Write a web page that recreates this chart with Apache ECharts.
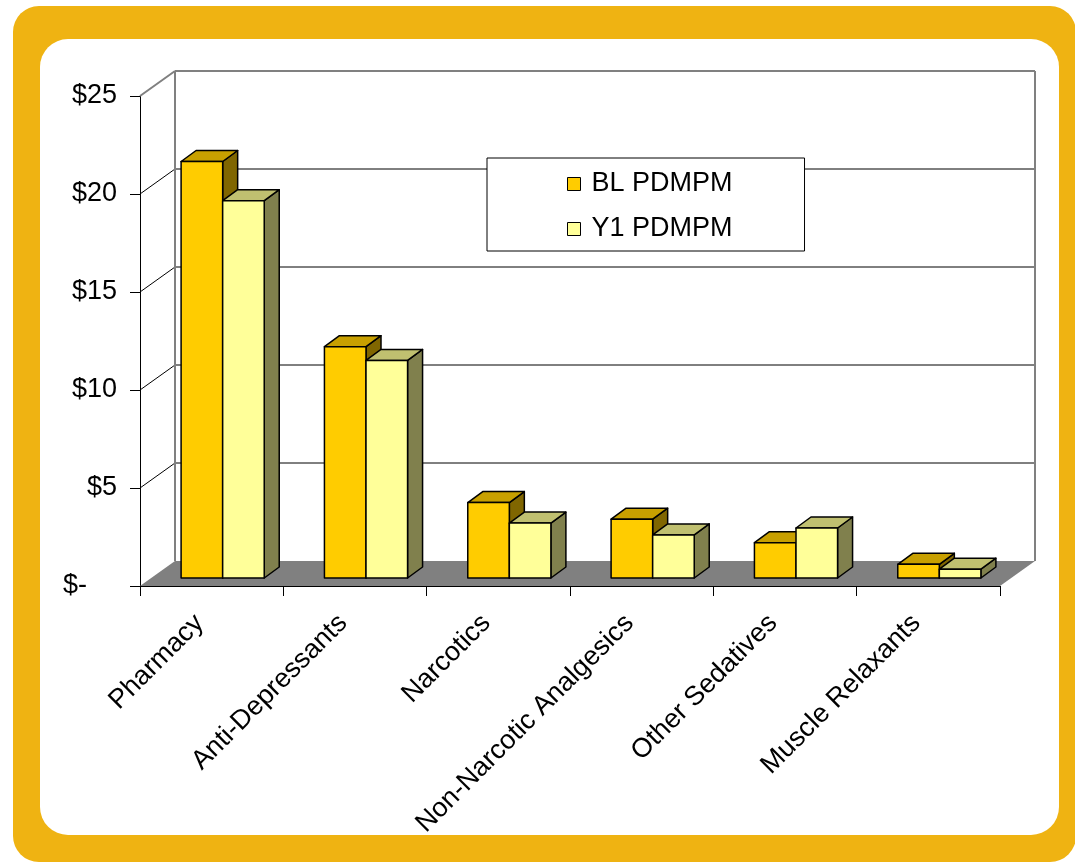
<!DOCTYPE html>
<html>
<head>
<meta charset="utf-8">
<script src="https://cdn.jsdelivr.net/npm/echarts@6/dist/echarts.min.js"></script>
<style>
html,body{margin:0;padding:0;background:#fff;}
#chart{width:1075px;height:866px;}
</style>
</head>
<body>
<div id="chart"></div>
<script>
const categories = ['Pharmacy', 'Anti-Depressants', 'Narcotics', 'Non-Narcotic Analgesics', 'Other Sedatives', 'Muscle Relaxants'];
const blValues = [21.25, 11.8, 3.85, 3.0, 1.8, 0.7];
const y1Values = [19.25, 11.1, 2.8, 2.2, 2.55, 0.45];
const yTicks = [0, 5, 10, 15, 20, 25];
const seriesNames = ['BL PDMPM', 'Y1 PDMPM'];

const FONT = '"Liberation Sans", Arial, sans-serif';
const DX = 35, DY = 25;      // wall depth
const OX = 11, OY = 8;       // bar plane offset
const BDX = 15, BDY = 11;    // bar depth
const palettes = [
  { front: '#FFCC00', top: '#C8A000', side: '#806600' },
  { front: '#FFFF99', top: '#C0C070', side: '#80804D' }
];

function wallRender(params, api) {
  const cs = params.coordSys;
  const v = api.value(1);
  const p = api.coord([0, v]);
  const y = p[1];
  const gx = cs.x, gw = cs.width;
  const children = [];
  if (v === 0) {
    children.push({
      type: 'polygon',
      shape: { points: [[gx, y], [gx + gw, y], [gx + gw + DX, y - DY], [gx + DX, y - DY]] },
      style: { fill: '#808080', stroke: null }
    });
  } else {
    const isTop = v === yTicks[yTicks.length - 1];
    const col = isTop ? '#808080' : '#000000';
    const lw = isTop ? 2 : 1;
    children.push({
      type: 'line',
      shape: { x1: gx, y1: y, x2: gx + DX, y2: y - DY },
      style: { stroke: col, lineWidth: lw }
    });
    children.push({
      type: 'line',
      shape: { x1: gx + DX, y1: y - DY, x2: gx + gw + DX, y2: y - DY },
      style: { stroke: col, lineWidth: lw }
    });
    if (isTop) {
      const b = api.coord([0, 0])[1];
      children.push({
        type: 'line',
        shape: { x1: gx + DX, y1: y - DY, x2: gx + DX, y2: b - DY },
        style: { stroke: '#808080', lineWidth: 2 }
      });
      children.push({
        type: 'line',
        shape: { x1: gx + gw + DX, y1: y - DY, x2: gx + gw + DX, y2: b - DY },
        style: { stroke: '#808080', lineWidth: 2 }
      });
    }
  }
  return { type: 'group', children: children };
}

function barRender(si) {
  return function (params, api) {
    const i = api.value(0), v = api.value(1);
    const base = api.coord([i, 0]);
    const top = api.coord([i, v]);
    const band = api.size([1, 0])[0];
    const w = band * 0.29;
    const x0 = base[0] + OX + (si === 0 ? -w : 0);
    const yB = base[1] - OY, yT = top[1] - OY;
    const pal = palettes[si];
    const stroke = { stroke: '#000', lineWidth: 1.5, lineJoin: 'round' };
    return {
      type: 'group',
      children: [
        { type: 'polygon', shape: { points: [[x0 + w, yT], [x0 + w + BDX, yT - BDY], [x0 + w + BDX, yB - BDY], [x0 + w, yB]] },
          style: Object.assign({ fill: pal.side }, stroke) },
        { type: 'polygon', shape: { points: [[x0, yT], [x0 + w, yT], [x0 + w + BDX, yT - BDY], [x0 + BDX, yT - BDY]] },
          style: Object.assign({ fill: pal.top }, stroke) },
        { type: 'rect', shape: { x: x0, y: yT, width: w, height: yB - yT },
          style: Object.assign({ fill: pal.front }, stroke) }
      ]
    };
  };
}

const chart = echarts.init(document.getElementById('chart'), null, { renderer: 'canvas' });
chart.setOption({
  backgroundColor: '#ffffff',
  animation: false,
  graphic: [
    { type: 'rect', z: -10, shape: { x: 13, y: 6, width: 1063, height: 856, r: 26 }, style: { fill: '#EFB312' } },
    { type: 'rect', z: -9, shape: { x: 40, y: 39, width: 1019, height: 796, r: 28 }, style: { fill: '#ffffff' } }
  ],
  legend: {
    data: seriesNames,
    orient: 'vertical',
    left: 487,
    top: 158,
    padding: [11, 72, 7, 80],
    itemGap: 15,
    itemWidth: 13,
    itemHeight: 13,
    icon: 'rect',
    borderColor: '#000',
    borderWidth: 1,
    backgroundColor: '#fff',
    itemStyle: { borderColor: '#000', borderWidth: 1 },
    textStyle: { fontFamily: FONT, fontSize: 27, color: '#000', lineHeight: 30, padding: [0, 0, 0, 6] }
  },
  grid: { left: 140, top: 96, width: 860, height: 490, containLabel: false },
  xAxis: {
    type: 'category',
    data: categories,
    boundaryGap: true,
    axisLine: { show: true, lineStyle: { color: '#000', width: 1 } },
    axisTick: { show: true, length: 10, lineStyle: { color: '#000' } },
    axisLabel: {
      rotate: 45, interval: 0, margin: 21, padding: [0, 17, 0, 0],
      fontFamily: FONT, fontSize: 27, color: '#000'
    },
    splitLine: { show: false }
  },
  yAxis: {
    type: 'value',
    min: 0, max: 25, interval: 5,
    axisLine: { show: true, lineStyle: { color: '#000', width: 1 } },
    axisTick: { show: true, length: 10, lineStyle: { color: '#000' } },
    axisLabel: {
      margin: 23, fontFamily: FONT, fontSize: 27, color: '#000',
      formatter: function (v) { return v === 0 ? '$-    ' : '$' + v; }
    },
    splitLine: { show: false }
  },
  series: [
    { type: 'custom', name: 'walls', clip: false, z: 1, silent: true,
      renderItem: wallRender, data: yTicks.map(function (v) { return [0, v]; }) },
    { type: 'custom', name: seriesNames[0], clip: false, z: 3,
      itemStyle: { color: palettes[0].front },
      renderItem: barRender(0), data: blValues.map(function (v, i) { return [i, v]; }) },
    { type: 'custom', name: seriesNames[1], clip: false, z: 4,
      itemStyle: { color: palettes[1].front },
      renderItem: barRender(1), data: y1Values.map(function (v, i) { return [i, v]; }) }
  ]
});
</script>
</body>
</html>
